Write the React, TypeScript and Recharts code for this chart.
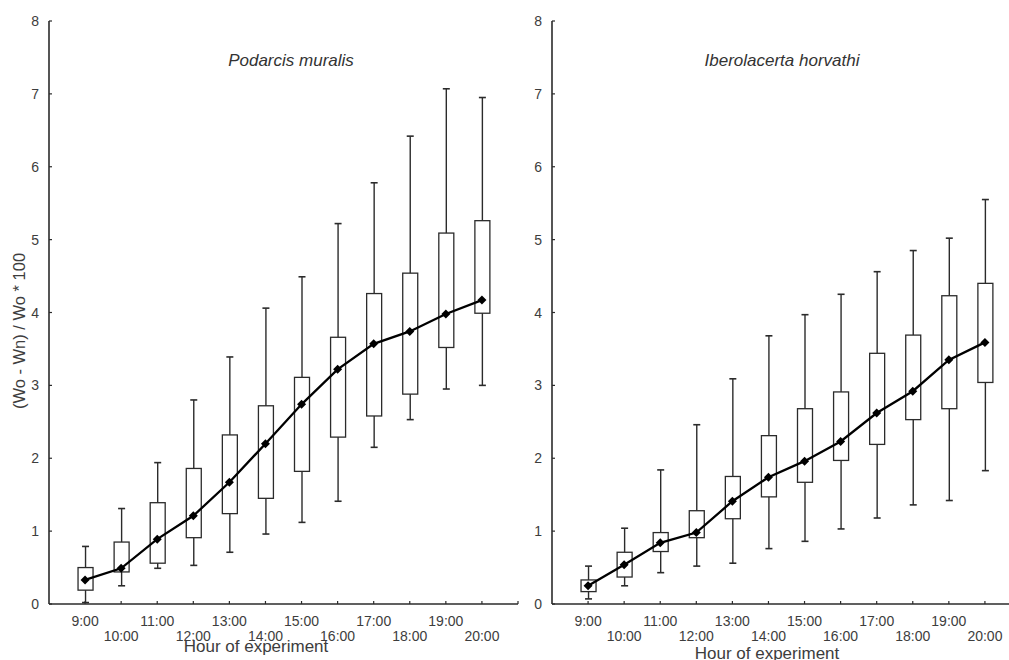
import React from "react";
import { ComposedChart, Bar, Line, XAxis, YAxis } from "recharts";

// hours 9:00 .. 20:00
const hours = [9, 10, 11, 12, 13, 14, 15, 16, 17, 18, 19, 20];
const hourLabels = ["9:00", "10:00", "11:00", "12:00", "13:00", "14:00", "15:00", "16:00", "17:00", "18:00", "19:00", "20:00"];
const yTicks = [0, 1, 2, 3, 4, 5, 6, 7, 8];

// Podarcis muralis
const pmMean = [0.33, 0.49, 0.89, 1.21, 1.67, 2.2, 2.74, 3.22, 3.57, 3.74, 3.98, 4.17];
const pmBoxLow = [0.19, 0.44, 0.56, 0.91, 1.24, 1.45, 1.82, 2.29, 2.58, 2.88, 3.52, 3.99];
const pmBoxHigh = [0.5, 0.85, 1.39, 1.86, 2.32, 2.72, 3.11, 3.66, 4.26, 4.54, 5.09, 5.26];
const pmMin = [0.02, 0.25, 0.49, 0.53, 0.71, 0.96, 1.12, 1.41, 2.15, 2.53, 2.95, 3.0];
const pmMax = [0.79, 1.31, 1.94, 2.8, 3.39, 4.06, 4.49, 5.22, 5.78, 6.42, 7.07, 6.95];

// Iberolacerta horvathi
const ihMean = [0.25, 0.54, 0.84, 0.98, 1.41, 1.74, 1.96, 2.23, 2.62, 2.92, 3.35, 3.59];
const ihBoxLow = [0.17, 0.37, 0.72, 0.91, 1.17, 1.47, 1.67, 1.97, 2.19, 2.53, 2.68, 3.04];
const ihBoxHigh = [0.33, 0.71, 0.98, 1.28, 1.75, 2.31, 2.68, 2.91, 3.44, 3.69, 4.23, 4.4];
const ihMin = [0.07, 0.25, 0.43, 0.52, 0.56, 0.76, 0.86, 1.03, 1.18, 1.36, 1.42, 1.83];
const ihMax = [0.52, 1.04, 1.84, 2.46, 3.09, 3.68, 3.97, 4.25, 4.56, 4.85, 5.02, 5.55];

const INK = "#2b2b2b";
const TXT = "#3d3d3d";
const FONT = "'Liberation Sans', Arial, sans-serif";

function buildRows(mean: number[], lo: number[], hi: number[], min: number[], max: number[]) {
  return hours.map((h, i) => ({
    hour: h,
    mean: mean[i],
    q1: lo[i],
    q3: hi[i],
    range: [min[i], max[i]],
  }));
}

const BoxShape = (props: any) => {
  const { x, y, width, height, payload } = props;
  if (height == null || !payload) return null;
  const [lo, hi] = payload.range;
  const k = height / (hi - lo);
  const py = (v: number) => y + (hi - v) * k;
  const cx = x + width / 2;
  const bw = 15;
  const cap = 3.5;
  return (
    <g>
      <line x1={cx} x2={cx} y1={py(hi)} y2={py(lo)} stroke={INK} strokeWidth={1.4} />
      <line x1={cx - cap} x2={cx + cap} y1={py(hi)} y2={py(hi)} stroke={INK} strokeWidth={1.6} />
      <line x1={cx - cap} x2={cx + cap} y1={py(lo)} y2={py(lo)} stroke={INK} strokeWidth={1.6} />
      <rect
        x={cx - bw / 2}
        y={py(payload.q3)}
        width={bw}
        height={py(payload.q1) - py(payload.q3)}
        fill="#fff"
        stroke={INK}
        strokeWidth={1.3}
      />
    </g>
  );
};

const Diamond = (props: any) => {
  const { cx, cy } = props;
  if (cx == null || cy == null) return null;
  const r = 4.5;
  return (
    <polygon
      points={`${cx},${cy - r} ${cx + r},${cy} ${cx},${cy + r} ${cx - r},${cy}`}
      fill="#000"
    />
  );
};

const XTick = (props: any) => {
  const { x, y, payload } = props;
  const idx = hours.indexOf(payload.value);
  return (
    <g>
      <line x1={x} x2={x} y1={y} y2={y - 3} stroke={INK} strokeWidth={1.2} />
      {idx >= 0 && (
        <text
          x={x}
          y={y + (idx % 2 === 0 ? 22 : 37)}
          textAnchor="middle"
          fontSize={14}
          fill={TXT}
          fontFamily={FONT}
        >
          {hourLabels[idx]}
        </text>
      )}
    </g>
  );
};

const YTick = (props: any) => {
  const { x, y, payload } = props;
  return (
    <g>
      <line x1={x} x2={x + 3} y1={y} y2={y} stroke={INK} strokeWidth={1.2} />
      <text x={x - 10} y={y + 5} textAnchor="end" fontSize={14} fill={TXT} fontFamily={FONT}>
        {payload.value}
      </text>
    </g>
  );
};

function Panel({ data, title, titleX, xLabelX, xLabelY }: any) {
  return (
    <div style={{ position: "relative", width: 530, height: 660 }}>
      <ComposedChart
        width={530}
        height={660}
        data={data}
        margin={{ top: 21, right: 12, bottom: 16, left: 9 }}
      >
        <XAxis
          dataKey="hour"
          type="number"
          domain={[8, 21]}
          ticks={[...hours, 21]}
          interval={0}
          height={40}
          tickSize={0}
          tickMargin={0}
          tickLine={false}
          tick={<XTick />}
          axisLine={{ stroke: INK, strokeWidth: 1.6 }}
        />
        <YAxis
          type="number"
          domain={[0, 8]}
          ticks={yTicks}
          width={40}
          tickSize={0}
          tickMargin={0}
          tickLine={false}
          tick={<YTick />}
          axisLine={{ stroke: INK, strokeWidth: 1.6 }}
        />
        <Bar dataKey="range" barSize={15} shape={<BoxShape />} isAnimationActive={false} />
        <Line
          dataKey="mean"
          type="linear"
          stroke="#000"
          strokeWidth={2.3}
          dot={<Diamond />}
          activeDot={false}
          isAnimationActive={false}
        />
      </ComposedChart>
      <div
        style={{
          position: "absolute",
          left: titleX,
          top: 51,
          transform: "translateX(-50%)",
          fontFamily: FONT,
          fontStyle: "italic",
          fontSize: 17,
          color: "#333",
          whiteSpace: "nowrap",
        }}
      >
        {title}
      </div>
      <div
        style={{
          position: "absolute",
          left: xLabelX,
          top: xLabelY,
          transform: "translateX(-50%)",
          fontFamily: FONT,
          fontSize: 17,
          color: TXT,
          whiteSpace: "nowrap",
          lineHeight: "18px",
        }}
      >
        Hour of experiment
      </div>
    </div>
  );
}

export default function App() {
  const pm = buildRows(pmMean, pmBoxLow, pmBoxHigh, pmMin, pmMax);
  const ih = buildRows(ihMean, ihBoxLow, ihBoxHigh, ihMin, ihMax);
  return (
    <div
      style={{
        position: "absolute",
        left: 0,
        top: 0,
        width: 1009,
        height: 660,
        overflow: "hidden",
        background: "#fff",
      }}
    >
      <div style={{ position: "absolute", left: 0, top: 0 }}>
        <Panel data={pm} title="Podarcis muralis" titleX={291} xLabelX={256} xLabelY={638} />
      </div>
      <div style={{ position: "absolute", left: 503, top: 0 }}>
        <Panel data={ih} title="Iberolacerta horvathi" titleX={279} xLabelX={264} xLabelY={645} />
      </div>
      <div
        style={{
          position: "absolute",
          left: 19,
          top: 331,
          transform: "translate(-50%, -50%) rotate(-90deg)",
          fontFamily: FONT,
          fontSize: 16.5,
          color: TXT,
          whiteSpace: "nowrap",
        }}
      >
        (Wo - Wn) / Wo * 100
      </div>
    </div>
  );
}
